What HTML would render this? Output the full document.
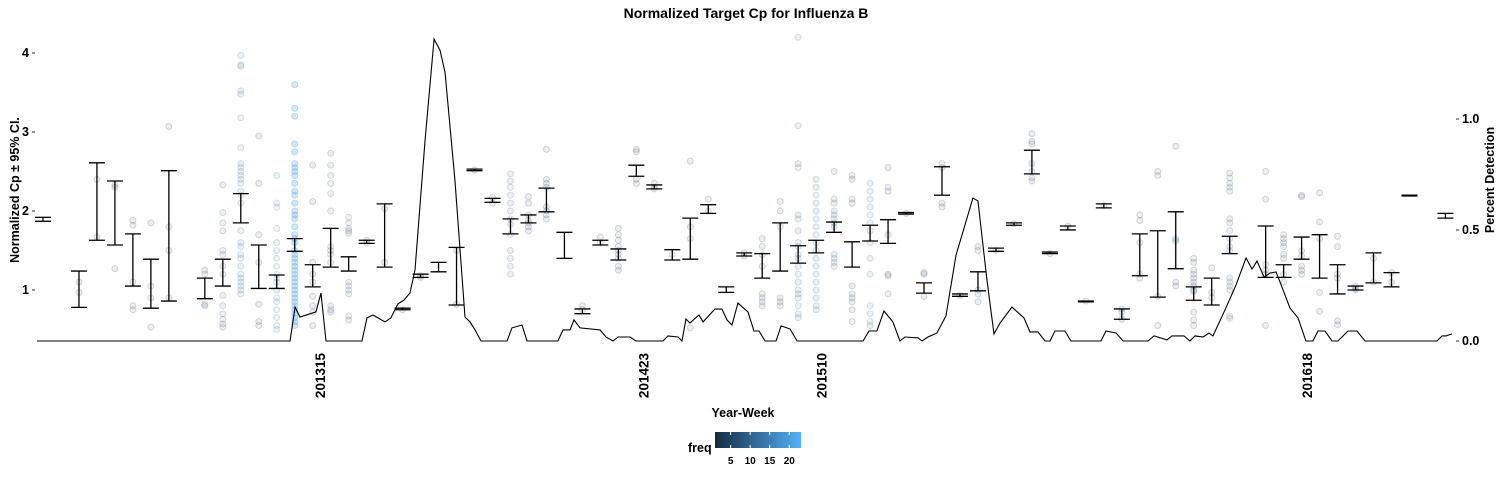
<!DOCTYPE html>
<html><head><meta charset="utf-8"><style>
html,body{margin:0;padding:0;background:#fff;}
svg{display:block;font-family:"Liberation Sans",Arial,sans-serif;}
.b{font-weight:bold;fill:#000;}
</style></head><body>
<svg id="chart" width="1500" height="480" viewBox="0 0 1500 480">
<defs><linearGradient id="freqGrad" x1="0" x2="1" y1="0" y2="0"><stop offset="0" stop-color="#132B43"/><stop offset="1" stop-color="#56B1F7"/></linearGradient></defs>
<text class="b" x="746" y="18" font-size="14" text-anchor="middle">Normalized Target Cp for Influenza B</text>
<g id="points"></g>
<g id="bars"></g>
<g id="line"></g>
<g id="axes"></g>
<text class="b" font-size="12.5" transform="translate(19,190) rotate(-90)" text-anchor="middle">Normalized Cp  ± 95% CI.</text>
<text class="b" font-size="12.5" transform="translate(1494,180) rotate(-90)" text-anchor="middle">Percent Detection</text>
<text class="b" font-size="12.5" x="743" y="417" text-anchor="middle">Year-Week</text>
<g>
<text class="b" font-size="12.5" x="688" y="452">freq</text>
<rect x="715" y="432" width="86" height="16" fill="url(#freqGrad)"/>
<g id="legendTicks"></g>
</g>
</svg>
<script>
const NS="http://www.w3.org/2000/svg";
// bar categories (week index) and CI bounds
const barCat=[0,2,3,4,5,6,7,9,10,11,12,13,14,15,16,17,18,19,20,21,22,23,24,25,26,27,28,29,30,31,32,33,34,35,36,37,38,39,40,41,42,43,44,45,46,47,48,49,50,51,52,53,54,55,56,57,58,59,60,61,62,63,64,65,66,68,69,70,71,72,73,74,75,76,78];
const barHi=[1.92,1.24,2.61,2.38,1.71,1.39,2.51,1.15,1.39,2.22,1.57,1.19,1.65,1.32,1.78,1.42,1.63,2.09,0.77,1.2,1.35,1.54,2.53,2.16,1.9,1.95,2.29,1.73,0.76,1.63,1.52,2.58,2.33,1.51,1.91,2.08,1.04,1.47,1.46,1.85,1.56,1.63,1.86,1.61,1.82,1.89,1.98,1.09,2.56,0.95,1.23,1.53,1.85,2.77,1.48,1.81,0.86,2.09,0.76,1.71,1.75,1.99,1.04,1.15,1.68,1.81,1.32,1.67,1.70,1.32,1.05,1.47,1.22,2.2,1.97];
const barLo=[1.87,0.78,1.63,1.57,1.05,0.77,0.86,0.89,1.05,1.85,1.02,1.02,1.49,1.04,1.29,1.24,1.59,1.29,0.75,1.16,1.23,0.81,2.51,2.11,1.71,1.85,1.99,1.4,0.70,1.57,1.38,2.44,2.28,1.38,1.39,1.97,0.97,1.43,1.15,1.24,1.34,1.47,1.73,1.29,1.62,1.59,1.96,0.96,2.2,0.92,0.99,1.49,1.82,2.47,1.46,1.76,0.85,2.04,0.63,1.18,0.91,1.27,0.87,0.81,1.46,1.16,1.16,1.39,1.15,0.95,1.0,1.09,1.04,2.19,1.91];
// detection line
const lineX=[-0.33,13.74,14.02,14.29,15.18,15.46,15.74,17.74,18.02,18.35,18.74,19.02,19.35,19.74,20.08,20.41,20.69,21.25,21.75,22.08,22.36,22.91,23.47,23.75,24.03,24.36,25.81,26.08,26.64,26.92,28.64,28.92,29.31,29.53,29.87,30.98,31.31,31.70,31.98,32.65,32.98,34.48,34.76,35.32,35.54,35.76,35.98,36.48,36.71,37.37,37.76,38.04,38.32,38.65,39.21,39.54,39.82,40.16,40.77,41.05,41.55,41.94,45.61,45.94,46.38,46.77,47.27,47.66,47.94,48.67,48.89,49.22,49.72,50.22,50.78,51.72,52.00,52.50,52.89,53.23,53.89,54.56,54.89,55.34,55.73,56.01,56.28,56.84,57.17,58.84,59.12,59.68,60.07,61.46,61.79,62.51,62.79,63.46,63.79,64.07,64.52,64.85,65.07,65.74,66.35,66.91,67.24,67.52,67.91,68.24,68.58,68.97,69.35,69.80,70.24,70.63,70.91,71.30,71.69,72.02,72.58,73.08,73.53,77.53,77.81,78.03,78.36];
const lineY=[0,0,0.153,0.108,0.131,0.216,0,0,0.104,0.117,0.099,0.086,0.104,0.167,0.185,0.216,0.32,0.905,1.36,1.31,1.21,0.725,0.108,0.086,0.05,0,0,0.059,0.072,0,0,0.05,0.05,0.095,0.059,0.05,0.018,0,0.018,0.018,0,0,0.023,0.018,0,0.099,0.081,0.117,0.086,0.144,0.144,0.095,0.072,0.171,0.131,0.045,0.045,0,0,0.068,0.054,0,0,0.045,0.045,0.135,0.086,0,0.018,0.014,0,0.018,0.036,0.113,0.387,0.644,0.631,0.275,0.032,0.081,0.153,0.104,0.041,0.041,0,0,0.045,0.045,0,0,0.045,0.036,0,0,0.023,0.005,0.023,0.023,0,0.023,0.018,0.036,0.023,0.140,0.252,0.374,0.324,0.36,0.288,0.306,0.311,0.23,0.149,0.104,0,0,0.045,0.045,0,0,0.045,0.045,0,0,0.023,0.023,0.032];
// scatter points
const ptCat=[2,2,3,3,4,4,4,5,5,5,5,5,6,6,6,6,7,7,7,7,9,9,9,9,10,10,10,10,10,10,10,10,10,10,10,10,10,10,
11,11,11,11,11,11,11,11,11,11,11,11,11,11,11,11,11,11,11,11,11,11,11,11,11,11,11,11,12,12,12,12,12,12,12,
13,13,13,13,13,13,13,13,13,13,13,13,13,13,13,13,13,13,
14,14,14,14,14,14,14,14,14,14,14,14,14,14,14,14,14,14,14,14,14,14,14,14,14,14,14,14,14,14,14,14,14,14,14,14,14,14,14,14,
15,15,15,15,15,15,15,15,15,16,16,16,16,16,16,16,16,16,16,16,16,16,17,17,17,17,17,17,17,17,17,17,17,18,18,19,19,20,21,21,23,23,24,25,25,
26,26,26,26,26,26,26,26,26,26,26,26,26,27,27,27,27,27,27,27,28,28,28,28,28,28,28,28,30,30,31,31,32,32,32,32,32,32,32,32,32,33,33,33,33,34,34,34,35,36,36,36,36,37,37,39,39,
40,40,40,40,40,40,40,40,41,41,41,41,41,41,42,42,42,42,42,42,42,42,42,42,42,42,42,42,42,42,42,42,42,42,
43,43,43,43,43,43,43,43,43,43,43,43,43,43,43,43,43,43,44,44,44,44,44,44,44,44,44,44,44,44,45,45,45,45,45,45,45,45,45,45,
46,46,46,46,46,46,46,46,46,46,46,46,46,46,47,47,47,47,47,47,47,48,49,49,49,50,50,50,50,51,52,52,52,52,52,53,
54,55,55,55,55,55,55,55,56,57,58,59,60,60,60,61,61,61,61,61,62,62,62,62,63,63,63,63,63,64,64,64,64,64,64,64,64,64,64,64,64,65,65,65,
66,66,66,66,66,66,66,66,66,66,66,66,66,66,66,66,66,68,68,68,68,68,68,69,69,69,69,69,69,69,69,70,70,70,70,70,70,70,71,71,71,71,71,72,72,72,72,72,72,73,73,73,74,74,75,75];
const ptVal=[0.97,1.1,2.4,1.67,2.3,2.33,1.27,1.88,1.82,1.1,0.8,0.75,1.85,1.05,0.9,0.53,3.07,1.8,1.5,0.9,1.25,1.2,0.82,0.8,2.33,1.98,1.85,1.75,1.5,1.45,1.3,1.2,0.93,0.8,0.7,0.63,0.57,0.53,
3.97,3.85,3.83,3.52,3.48,3.18,2.8,2.6,2.55,2.5,2.45,2.4,2.35,2.25,2.2,2.1,1.75,1.6,1.55,1.45,1.4,1.3,1.2,1.15,1.1,1.05,1.0,0.95,2.95,2.35,1.7,1.35,0.82,0.6,0.55,
2.45,2.1,2.05,1.78,1.6,1.5,1.4,1.3,1.2,1.15,1.1,1.0,0.9,0.85,0.75,0.65,0.55,0.5,
3.6,3.3,3.2,2.85,2.75,2.6,2.55,2.5,2.45,2.35,2.25,2.2,2.1,2.0,1.95,1.9,1.8,1.7,1.65,1.6,1.5,1.45,1.4,1.35,1.3,1.25,1.2,1.15,1.1,1.05,1.0,0.95,0.9,0.85,0.8,0.75,0.7,0.65,0.6,0.55,
2.58,2.12,1.35,1.2,1.1,0.92,0.8,0.72,0.55,2.73,2.58,2.45,2.35,2.22,2.0,1.55,1.5,1.45,1.35,0.8,0.75,0.72,1.92,1.85,1.78,1.75,1.72,1.1,1.05,1.0,0.95,0.67,0.62,1.63,1.6,2.03,1.35,0.75,1.18,1.16,1.5,0.82,2.52,2.17,2.1,
2.47,2.38,2.3,2.2,2.1,2.0,1.9,1.83,1.7,1.5,1.4,1.3,1.2,2.18,2.1,1.95,1.88,1.85,1.8,1.75,2.78,2.4,2.35,2.3,2.05,2.0,1.95,1.9,0.8,0.75,1.67,1.6,1.78,1.7,1.63,1.55,1.5,1.45,1.4,1.3,1.25,2.78,2.75,2.4,2.35,2.35,2.3,2.28,1.45,2.63,1.8,1.65,0.52,2.15,2.0,1.47,1.43,
1.65,1.55,1.45,1.3,0.95,0.9,0.85,0.8,2.12,2.0,1.8,0.9,0.85,0.8,4.2,3.08,2.6,2.55,1.95,1.9,1.75,1.6,1.55,1.45,1.4,1.3,1.2,1.1,1.0,0.95,0.9,0.8,0.7,0.65,
2.4,2.3,2.2,2.1,2.0,1.9,1.8,1.7,1.6,1.5,1.4,1.3,1.2,1.1,1.0,0.9,0.8,0.75,2.5,2.15,2.1,2.0,1.95,1.9,1.85,1.8,1.45,1.4,1.35,1.3,2.45,2.4,2.15,2.1,1.05,0.95,0.9,0.85,0.75,0.6,
2.35,2.25,2.15,2.05,1.95,1.85,1.75,1.6,1.4,1.2,0.8,0.7,0.6,0.55,2.55,2.3,2.25,1.7,1.2,1.18,0.95,1.97,1.22,1.2,0.92,2.6,2.55,2.1,2.05,0.93,1.55,1.5,1.0,0.95,0.85,1.5,
1.84,2.98,2.88,2.85,2.6,2.5,2.42,2.38,1.46,1.81,0.86,2.07,0.76,0.72,0.63,1.95,1.88,1.6,1.2,1.15,2.5,2.45,0.92,0.55,2.82,1.65,1.62,1.1,1.05,1.4,1.35,1.25,1.2,1.15,1.1,1.05,1.0,0.98,0.72,0.62,0.55,1.28,0.97,0.9,
2.48,2.42,2.35,2.3,2.25,1.9,1.85,1.75,1.65,1.55,1.5,1.15,1.1,1.05,1.0,0.67,0.64,2.5,2.15,1.32,1.25,1.2,0.55,1.7,1.65,1.6,1.55,1.45,1.4,1.2,1.1,2.2,2.18,1.5,1.43,1.3,1.25,1.2,2.23,1.86,1.65,0.97,0.73,1.68,1.55,1.2,1.15,0.61,0.56,1.05,1.02,1.0,1.4,1.1,1.22,1.1];
const highFreqCat=[10,11,13,14,16,17,26,42,43,44,46,66];
const highFreqVal=[5,9,11,21,5,6,6,6,7,5,8,6];
const xTickVals=[15.4,33.4,43.3,70.3];
const xTickLabels=["201315","201423","201510","201618"];
const yTicks=[1,2,3,4];
const y2Ticks=[0.0,0.5,1.0];
const legendVals=[5,10,15,20];

const x=u=>43+u*17.98;
const y=v=>369-v*79;
const y2=p=>341-p*222;
const fmin=1,fmax=23;
const legX=f=>715+(f-fmin)/(fmax-fmin)*86;
function col(f){const t=Math.max(0,Math.min(1,(f-fmin)/(fmax-fmin)));
 const a=[0x13,0x2B,0x43],b=[0x56,0xB1,0xF7];
 return "rgb("+a.map((c,i)=>Math.round(c+(b[i]-c)*t)).join(",")+")";}
function mk(tag,attrs,parent){const e=document.createElementNS(NS,tag);for(const k in attrs)e.setAttribute(k,attrs[k]);parent.appendChild(e);return e;}

const gP=document.getElementById('points');
ptCat.forEach((c,i)=>{const k=highFreqCat.indexOf(c);const f=k>=0?highFreqVal[k]:2;const cl=col(f);
 const hi=f>15;
 const e=mk('circle',{cx:x(c),cy:y(ptVal[i]),r:3,fill:cl,'fill-opacity':hi?0.25:0.08,stroke:cl,'stroke-opacity':hi?0.35:0.18,'stroke-width':1},gP);
 
 });

const gB=document.getElementById('bars');
barCat.forEach((c,i)=>{const cx=x(c),t=y(barHi[i]),b=y(barLo[i]);
 const g=mk('g',{stroke:'#000','stroke-width':1.3},gB);
 
 
 mk('line',{x1:cx,x2:cx,y1:t,y2:b},g);
 mk('line',{x1:cx-8,x2:cx+8,y1:t,y2:t},g);
 mk('line',{x1:cx-8,x2:cx+8,y1:b,y2:b},g);});

const gL=document.getElementById('line');
const pl=mk('polyline',{points:lineX.map((u,i)=>x(u)+","+y2(lineY[i])).join(" "),fill:'none',stroke:'#000','stroke-width':1.1},gL);



const gA=document.getElementById('axes');
yTicks.forEach(v=>{const t=mk('text',{x:29,y:y(v)+4,'font-size':12.5,'text-anchor':'end',class:'b'},gA);t.textContent=v;
 
 
 mk('line',{x1:32,x2:35,y1:y(v),y2:y(v),stroke:'#333','stroke-width':1},gA);});
y2Ticks.forEach(v=>{const t=mk('text',{x:1462,y:y2(v)+4,'font-size':12.5,class:'b'},gA);t.textContent=v.toFixed(1);
 
 
 mk('line',{x1:1456,x2:1459,y1:y2(v),y2:y2(v),stroke:'#333','stroke-width':1},gA);});
xTickVals.forEach((u,i)=>{const t=mk('text',{'font-size':13.5,class:'b','text-anchor':'end',transform:'translate('+(x(u)+5)+',353) rotate(-90)'},gA);t.textContent=xTickLabels[i];
 
 });

const gT=document.getElementById('legendTicks');
legendVals.forEach(v=>{const lx=legX(v);
 mk('line',{x1:lx,x2:lx,y1:432,y2:435,stroke:'#fff','stroke-width':1},gT);
 mk('line',{x1:lx,x2:lx,y1:445,y2:448,stroke:'#fff','stroke-width':1},gT);
 const t=mk('text',{x:lx,y:464,'font-size':10,'text-anchor':'middle',class:'b'},gT);t.textContent=v;
 
 });
</script>
</body></html>
